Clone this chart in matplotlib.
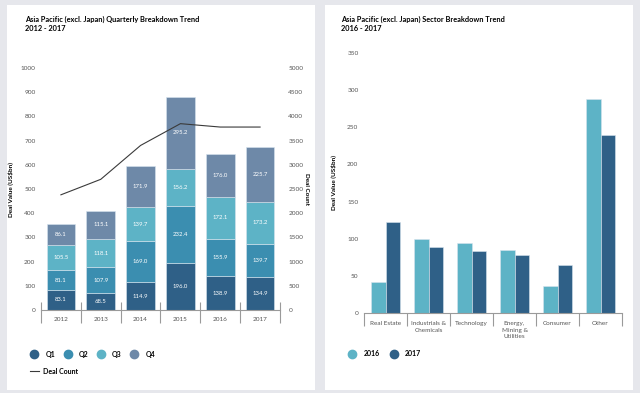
import matplotlib.pyplot as plt
from matplotlib.patches import Rectangle
from matplotlib.lines import Line2D
import numpy as np

plt.rcParams['font.family'] = ['Lato', 'DejaVu Sans']

# Quarterly deal value (US$bn)
years = ["2012", "2013", "2014", "2015", "2016", "2017"]
q1 = [83.1, 68.5, 114.9, 196.0, 138.9, 134.9]
q2 = [81.1, 107.9, 169.0, 232.4, 155.9, 139.7]
q3 = [105.5, 118.1, 139.7, 156.2, 172.1, 173.2]
q4 = [86.1, 115.1, 171.9, 295.2, 176.0, 225.7]
deal_count = [2380, 2700, 3400, 3850, 3780, 3780]

# Sector deal value (US$bn)
sectors = ["Real Estate", "Industrials &\nChemicals", "Technology",
           "Energy,\nMining &\nUtilities", "Consumer", "Other"]
val_2016 = [42, 99, 94, 85, 37, 288]
val_2017 = [122, 89, 84, 78, 64, 239]

c_q1 = "#2f6087"
c_q2 = "#3b8eb0"
c_q3 = "#5db3c6"
c_q4 = "#6e89a8"
grey_txt = "#555555"

fig = plt.figure(figsize=(6.4, 3.93), dpi=100)
fig.patch.set_facecolor("#e6e7ec")

# white panels
for x0 in (7 / 640, 325 / 640):
    fig.patches.append(Rectangle((x0, 3 / 393), 308 / 640, 385 / 393,
                                 transform=fig.transFigure, facecolor="white",
                                 edgecolor="none", zorder=-5))

# ---- left chart: stacked quarters + deal count
ax1 = fig.add_axes([41 / 640, 1 - 310 / 393, 239 / 640, 242 / 393])
x = np.arange(len(years))
bottom = np.zeros(len(years))
for vals, col in zip([q1, q2, q3, q4], [c_q1, c_q2, c_q3, c_q4]):
    ax1.bar(x, vals, width=0.72, bottom=bottom, color=col,
            edgecolor="#d8e4ee", linewidth=0.4, zorder=2)
    for xi, b, v in zip(x, bottom, vals):
        ax1.text(xi, b + v / 2, f"{v:.1f}", ha="center", va="center",
                 color="white", fontsize=4.3, zorder=3)
    bottom += np.array(vals)

ax1.set_xlim(-0.5, len(years) - 0.5)
ax1.set_ylim(0, 1000)
ax1.set_yticks(range(0, 1001, 100))
ax1.set_xticks(x)
ax1.set_xticklabels(years)
ax1.tick_params(axis="both", length=0, labelsize=4.6, labelcolor=grey_txt)
ax1.tick_params(axis="x", pad=5)
ax1.tick_params(axis="y", pad=4)
for s in ["top", "right", "left"]:
    ax1.spines[s].set_visible(False)
ax1.spines["bottom"].set_color("#9a9a9a")
ax1.spines["bottom"].set_linewidth(0.8)
ax1.vlines(np.arange(-0.5, len(years)), -0.054, 0.033, color="#9a9a9a",
           linewidth=0.8, transform=ax1.get_xaxis_transform(), clip_on=False)
ax1.set_ylabel("Deal Value (US$bn)", fontsize=4.6, fontweight="bold", labelpad=5)
ax1.patch.set_alpha(0)

ax2 = ax1.twinx()
ax2.plot(x, deal_count, color="#3a3a3a", linewidth=0.8, zorder=4)
ax2.set_ylim(0, 5000)
ax2.set_yticks(range(0, 5001, 500))
ax2.tick_params(axis="y", length=0, labelsize=4.6, labelcolor=grey_txt, pad=6)
for s in ["top", "right", "left", "bottom"]:
    ax2.spines[s].set_visible(False)
ax2.set_ylabel("Deal Count", fontsize=4.6, fontweight="bold", rotation=270, labelpad=4)
ax2.patch.set_alpha(0)

fig.text(25 / 640, 1 - 24 / 393, "Asia Pacific (excl. Japan) Quarterly Breakdown Trend\n2012 - 2017",
         fontsize=5.3, fontweight="bold", va="center", ha="left", linespacing=1.4)

h_q = [Line2D([], [], marker="o", linestyle="none", markersize=6,
              markerfacecolor=c, markeredgecolor=c) for c in [c_q1, c_q2, c_q3, c_q4]]
fig.legend(h_q, ["Q1", "Q2", "Q3", "Q4"], loc="center left",
           bbox_to_anchor=(24 / 640, 1 - 354 / 393), ncol=4, frameon=False,
           prop={"size": 5, "weight": "bold"}, handletextpad=1.0,
           columnspacing=1.2, handlelength=1.2)
h_line = [Line2D([], [], color="#3a3a3a", linewidth=0.8)]
fig.legend(h_line, ["Deal Count"], loc="center left",
           bbox_to_anchor=(24 / 640, 1 - 371 / 393), frameon=False,
           prop={"size": 5, "weight": "bold"}, handletextpad=0.6, handlelength=1.3)

# ---- right chart: sector comparison
ax3 = fig.add_axes([364 / 640, 1 - 313 / 393, 258 / 640, 260 / 393])
xs = np.arange(len(sectors))
w = 0.335
ax3.bar(xs - w / 2, val_2016, width=w, color=c_q3, edgecolor="#d8e4ee", linewidth=0.4)
ax3.bar(xs + w / 2, val_2017, width=w, color=c_q1, edgecolor="#d8e4ee", linewidth=0.4)
ax3.set_xlim(-0.5, len(sectors) - 0.5)
ax3.set_ylim(0, 350)
ax3.set_yticks(range(0, 351, 50))
ax3.set_xticks(xs)
ax3.set_xticklabels(sectors, va="top", linespacing=1.3)
ax3.tick_params(axis="both", length=0, labelsize=4.6, labelcolor=grey_txt)
ax3.tick_params(axis="x", pad=6)
ax3.tick_params(axis="y", pad=4)
for s in ["top", "right", "left"]:
    ax3.spines[s].set_visible(False)
ax3.spines["bottom"].set_color("#9a9a9a")
ax3.spines["bottom"].set_linewidth(0.8)
ax3.vlines(np.arange(-0.5, len(sectors)), -0.05, 0, color="#9a9a9a",
           linewidth=0.8, transform=ax3.get_xaxis_transform(), clip_on=False)
ax3.set_ylabel("Deal Value (US$bn)", fontsize=4.6, fontweight="bold", labelpad=7)
ax3.patch.set_alpha(0)

fig.text(341 / 640, 1 - 24 / 393, "Asia Pacific (excl. Japan) Sector Breakdown Trend\n2016 - 2017",
         fontsize=5.3, fontweight="bold", va="center", ha="left", linespacing=1.4)

h_y = [Line2D([], [], marker="o", linestyle="none", markersize=6,
              markerfacecolor=c, markeredgecolor=c) for c in [c_q3, c_q1]]
fig.legend(h_y, ["2016", "2017"], loc="center left",
           bbox_to_anchor=(342 / 640, 1 - 354 / 393), ncol=2, frameon=False,
           prop={"size": 5, "weight": "bold"}, handletextpad=1.0,
           columnspacing=1.4, handlelength=1.2)

fig.savefig("out.png", dpi=100, facecolor=fig.get_facecolor())
